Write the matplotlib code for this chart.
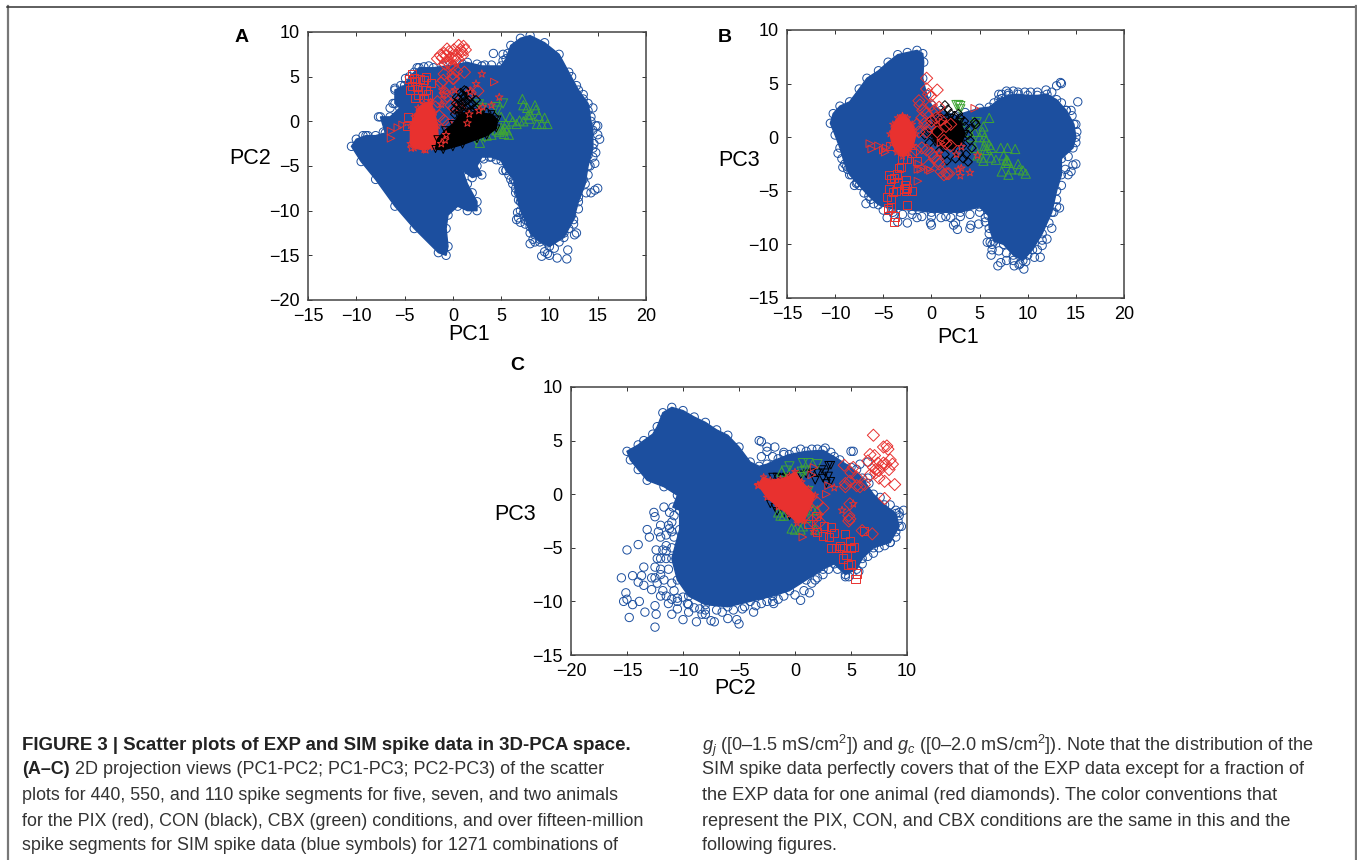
import matplotlib
matplotlib.use("Agg")
import matplotlib.pyplot as plt
import numpy as np

W, H = 1357, 860
plt.rcParams['font.family'] = ['Liberation Sans', 'DejaVu Sans']
plt.rcParams['mathtext.fontset'] = 'custom'
plt.rcParams['mathtext.rm'] = 'Liberation Sans'
plt.rcParams['mathtext.it'] = 'Liberation Sans:italic'

BLUE = '#1c4f9f'
RED = '#e8312f'
GREEN = '#3fa535'

# panel A, PC1-PC2
a_sim_hull = [(-10.5,-2.8),(-10,-2),(-9,-1.6),(-8,-1.6),(-7,-1.3),(-7.5,0.5),(-6.5,0.5),(-5.5,1.5),(-6,2),(-6,3.5),(-5,4),(-4.5,5),(-3.5,6),(-2,6),(0,6.3),(1.5,6.6),(3,6.2),(5,6.2),(5.5,7),(6,8.5),(7,9.3),(8,9.6),(9.5,8.8),(11,7.5),(12,5.5),(13,3.5),(14,2),(14.3,0),(14.5,-1),(14.5,-3),(14,-5),(13.7,-7),(13,-9),(12.5,-11),(11.5,-13),(10,-14),(9,-13.5),(8,-12.5),(7.5,-11),(7,-10),(6.5,-8),(6.3,-6.5),(5.5,-5.5),(5,-4.4),(4,-4),(3,-4),(2.5,-5),(3,-6),(2,-6.3),(1,-5.5),(1.5,-7),(2,-8),(2.5,-9),(2.5,-10),(1.5,-10),(0.5,-9.5),(-0.5,-10.5),(-0.7,-12),(-0.5,-14),(-0.7,-15),(-1.5,-14.7),(-4,-12),(-6,-9.5),(-8,-6.5),(-9.5,-4.5)]
a_sim_out = [(15.2,-2),(15,-0.5),(15,-1.5),(14.8,-3.5),(14.7,-4.7),(14.5,-4),(15,-7.5),(14.7,-7.7),(14.3,-8),(13.8,-8),(13,-9.8),(12.8,-12.5),(12.6,-12.7),(11.9,-14.4),(11.8,-15.4),(10.8,-15.3),(10,-15),(9.8,-14.8),(9.2,-15.1),(9.5,-14.6),(8.5,-13.5),(8.3,-13.2),(8,-13.7),(7.5,-11.5),(7,-11.3),(6.8,-10.8),(6.7,-10.2),(6.6,-11),(6.8,-8.8),(6.5,-7.5),(6.2,-7),(5.8,-6),(5.5,-5.5),(5.2,-5.5),(4.5,-4.3),(3.8,-4),(3.2,-4.2),(4.2,7.6),(5.2,7.5),(5.7,7.6),(13.5,3),(13.2,2.2),(14.5,1.5),(14.8,-0.5),(-6.2,2),(-6,3.7),(-5.4,4),(-4.9,4.8),(-3.7,6),(-3,6.1),(-7.7,0.5),(-7.2,-1.2),(-9.3,-1.6),(-8.8,-1.6)]
a_sim_edge = [(12.5,-11.5),(12,-12),(11.5,-12.5),(12.3,-10.5),(13,-8.5),(13.5,-6.5),(14,-6),(14.2,-5),(11,-13.5),(10.5,-14.2),(9.8,-13.6),(9,-13.2),(8.5,-12.7),(8,-11.8),(7.8,-11.2),(7.3,-10.3),(7,-9),(6.8,-8),(6.5,-6.8),(6,-6.5),(13.8,-3),(14,-3.8),(14.6,-2.5),(14.3,0.5),(14,1.2),(13.5,2.5),(12.8,4),(12.3,5),(-6.5,1.5),(-5.5,3),(-5.2,3.5),(-4.5,4),(-4,5.5),(-2.5,6.2),(-1,6.2),(1,6.4),(2.5,6.4),(3.3,6.3),(4,6.3),(5.2,6.8)]
a_red_hull = [(-4.4,-2.5),(-4.4,-0.5),(-4,0.5),(-3.6,1.5),(-3,2),(-2.3,2.2),(-1.9,1),(-1.6,-0.5),(-1.5,-2),(-2,-2.9),(-3,-3.2),(-4,-3)]
a_red_dia = [(-1.6,7),(-1.3,7.4),(-1.1,7.1),(-0.9,7.6),(-0.6,8.1),(-0.7,7.3),(-0.4,7.8),(-0.2,7.1),(0.1,8),(0.3,7.4),(0.6,8.5),(0.8,8),(0.9,7.8),(1,7.4),(1.3,8),(1.1,8.4),(0.5,7),(0.1,7),(-0.3,6.3),(-0.5,6.6),(0,6.2),(0.4,5.6),(0.3,6.8),(-0.8,6.4),(0,5.3),(0,4.8),(-1,4.6),(0.1,4.8),(-0.9,5.3),(-1.2,4.3),(1.2,5.5),(2.6,3.4),(1.8,3.2),(-0.8,3.2),(0,3),(-0.6,2.8),(0.1,1.5),(0.5,2),(0.6,1.5),(1,1.2),(-0.2,1.8),(-1.4,0.6),(-0.9,0.1),(-0.5,-0.4),(-1.6,2.2),(-1.8,1.6)]
a_red_sq = [(-4.5,4.7),(-4.2,5.3),(-4,4.8),(-4.2,4),(-3.7,3.8),(-3.9,4.5),(-3.4,4.7),(-3,4.6),(-2.8,5),(-3.2,3.5),(-3.6,3),(-3.9,2.6),(-4.4,3.5),(-2.8,3.5),(-4.6,0.5),(-4.7,-0.5),(-2.3,4.3),(-2.6,3),(-3,2.5)]
a_red_tri = [(-6.4,-1.9),(-6.4,-1.1),(-5.7,-0.7),(-5.2,-0.4),(4.3,4.4),(0.3,-0.2),(2.2,0.5),(3.5,-1)]
a_red_star = [(3,5.3),(2.4,4.2),(4.8,2.7),(4,1.8),(3.1,1.6),(2.7,1.2),(1.7,0.8),(1.5,-0.2),(-4.3,-3),(-2.8,-3.2),(-0.7,-1.5),(-0.8,-2.1),(-1.2,-2.5),(1.8,3.3),(-1.2,1.9),(-1.1,3.5),(0.2,3.5),(-1,3)]
a_blk_hull = [(-1.8,-3.1),(-1.6,-2),(-0.8,-1),(0,-0.3),(0.6,0.6),(1.2,1),(2,1),(3,0.9),(4,0.8),(4.6,0.2),(4.5,-0.8),(3.5,-1.6),(2.5,-2),(1,-2.6),(0,-2.9),(-1,-3.2)]
a_blk_pts = [(0.3,2),(0.6,2.5),(1,3),(1.4,3.4),(1.8,2.8),(2,2),(2.5,1.5),(0.6,1.2),(1,1),(1.5,1.5),(2,1),(1.3,2.2),(2.8,0.9),(3.5,1),(4.3,0.5),(0.8,3.2),(1.2,2.8),(0.2,0.8),(0.5,1.8),(0.9,2),(1.6,2.4),(1.2,3.5),(1.7,1.9),(2.2,1.4),(0.9,1.5),(1.8,1.2),(0.4,2.7),(1.1,2.5),(0.2,1.3),(2.4,2.4)]
a_grn_up = [(7.2,2.5),(7.3,1.8),(8.5,1.8),(8.6,1.3),(7.7,1.5),(8.9,0.6),(9.5,0.4),(9.8,-0.3),(9.2,-0.3),(8.7,-0.3),(8,0.8),(7.8,0.7),(7.9,0.3),(7.3,0),(6.9,0.1),(6.6,-0.3),(6.2,0),(5.9,0.5),(5,0.5),(5.5,-0.3),(5,-0.7),(5.6,-1),(4.8,-1.2),(5.3,-1.4),(4.5,-1),(4,-1.5),(3.5,-1.6),(2.8,-2.4),(5.8,-1.5),(5.2,-1),(4.9,-0.9),(5.4,-0.8)]
a_grn_dn = [(5.2,2),(4.6,1.2),(4.4,1.6),(3,1.5),(2.7,1.9),(2.4,-2.1),(3.3,-1.8)]

# panel B, PC1-PC3
b_sim_hull = [(-10.5,1.3),(-10.2,2.2),(-9.5,2.9),(-8.5,3.3),(-7.5,4.5),(-6.7,5.5),(-5.5,6.2),(-4.5,7),(-3.5,7.7),(-2.5,7.9),(-1.5,8.1),(-0.9,7.8),(-0.8,7),(-0.9,5.5),(-0.5,4),(0,3),(1,2.5),(2.5,2),(3.5,2.3),(5,2.7),(6,2.8),(7,3.5),(8,3.9),(9,4),(10,3.9),(11,3.9),(12,4),(13,3.5),(14,2.5),(14.8,1.2),(15,0),(14.7,-1),(13.5,-2),(13.5,-3.5),(13,-5),(12.5,-7),(11.5,-9),(10.5,-10.5),(9.5,-11.5),(8.5,-11),(7.5,-10),(6.5,-9.7),(6,-8.5),(5.9,-7.3),(5,-6.5),(3,-7),(0,-7),(-2,-6.8),(-4,-6.7),(-5.5,-6.3),(-6.5,-5.5),(-7.5,-4.5),(-8.5,-3.5),(-9,-2.5),(-9.5,-1),(-10,0.2)]
b_sim_out = [(-9.7,-1.5),(-9.2,-2.8),(-8.7,-3),(-8,-4.5),(-7.8,-4.3),(-6.8,-6.2),(-6.3,-5.8),(-4.6,-7.5),(-3.9,-7.2),(-3.5,-7.9),(-2.5,-8),(-1.5,-7.5),(-0.1,-8),(0,-8.2),(1,-7.5),(2.3,-8.2),(2.7,-8.6),(2.5,-8),(4,-8.5),(4.1,-8.2),(4.9,-8.1),(5.6,-7.9),(5.8,-9.8),(6.1,-9.8),(6.3,-10.5),(6.2,-11),(6.9,-12),(7.2,-11.7),(7.8,-11.5),(8.6,-12),(9.1,-11.9),(9.6,-12.3),(9.8,-11.6),(10.7,-11.2),(11.3,-11.2),(11.5,-10.1),(12,-9.5),(12.5,-8.5),(13,-6.5),(13.3,-6.6),(14.2,-3.5),(14.7,-2.6),(15,-2.5),(14.5,-3.2),(15.2,3.3),(15,1.2),(14.6,2),(13.5,5),(13.4,5.1),(13,4.8),(14,2.5),(7,4),(7.3,4),(7.8,4.3),(8.5,4.3),(9.7,4.2),(11.9,4.4)]
b_sim_edge = [(-9.3,-2),(-8.8,-2.7),(-8.3,-3.5),(-7.7,-4.2),(-7,-5.2),(-6,-6.2),(-5,-6.8),(-4,-7),(-3,-7.2),(-2,-7.2),(-1,-7.4),(0,-7.4),(1.5,-7.4),(2,-7.5),(3,-7.4),(4,-7.2),(5,-7),(5.6,-7.5),(6,-9),(6.3,-10),(7,-10.6),(7.8,-10.8),(8.5,-11.5),(9.2,-11.8),(10,-11),(11,-10.5),(11.5,-9.6),(12.2,-8),(12.7,-7),(13,-5.8),(13.5,-4.5),(13.9,-3),(14.2,-1.8),(15,-0.5),(15.1,0.5),(14.5,2.5),(13.5,3.2),(12.5,4.2),(11,4.2),(10.3,4.2),(9,4.2),(8,4.1),(7.3,3.6),(6.5,3.2)]
b_red_hull = [(-4.3,0.3),(-4,1.2),(-3.5,1.8),(-3,2),(-2.5,1.8),(-2,1.2),(-1.6,0.3),(-1.9,-0.8),(-2.4,-1.4),(-3,-1.8),(-3.6,-1.4),(-4.1,-0.6)]
b_red_dia = [(-0.5,5.5),(0.6,4.4),(-0.5,4.5),(-0.3,4),(-0.1,3.8),(-1.3,3.4),(-1.2,3),(-0.9,2.5),(-0.5,2.2),(0,3),(0.3,2.5),(0.8,2.8),(-1,1.8),(-0.7,1.3),(-0.2,1),(-1.5,1.2),(-1.3,0.5),(-0.5,0.5),(0,1.5),(0.5,1.8),(1,1.6),(1.5,1),(2,1.2),(0.6,0.5),(1.3,-0.3),(1.5,-0.6),(2,-0.8),(-0.5,-1.2),(0,-1.5),(0.3,-1.9),(0.7,-2.2),(0.8,-2.5),(1,-3.2),(1.3,-3.5),(1.6,-3.4),(1.8,-3.4),(-1,-1),(-1.6,-1.2),(-0.3,-2.6)]
b_red_sq = [(-4.4,-3.5),(-4.2,-3.9),(-3.9,-3.8),(-3.6,-3.4),(-3.4,-2.9),(-3.2,-2.8),(-3.5,-4.3),(-2.6,-4),(-2.5,-4.7),(-2.7,-4.5),(-2.8,-4.8),(-2.6,-5),(-2,-5),(-4.4,-4.8),(-4,-5.1),(-3.7,-5),(-4.6,-5.6),(-4.2,-5.8),(-4.5,-6.6),(-4.5,-6.8),(-4.2,-6.5),(-2.5,-6.3),(-3.8,-7.4),(-3.9,-7.9),(-3,-2),(-2.5,-2),(-4.3,-0.8),(-2,-1.5),(-1.5,-2.2)]
b_red_tri = [(-6.4,-0.6),(-6.2,-1.1),(-5.5,-0.8),(-5,-1.2),(-4.7,-1),(-4.8,-1.4),(-1.4,-3),(-1.1,-3),(-0.3,-3),(-0.1,-3.1),(-1.4,-4.1),(4.5,2.7),(1,-0.5),(1.2,1.4),(-1.3,-2.5)]
b_red_star = [(-3,1.9),(-3.2,1.3),(2.8,-3),(3,-3.6),(3.1,-2.9),(4,-3.3),(2.6,-1.6),(3.1,-0.9),(4.8,-1.7),(0.8,-1.5)]
b_blk_hull = [(0,0.3),(0.5,1.2),(1.2,1.7),(2,1.8),(3,1.4),(3.5,0.3),(3.1,-0.6),(2.3,-1.1),(1.2,-1),(0.4,-0.5)]
b_blk_pts = [(1.4,3),(1.7,2.6),(1.2,2.3),(2,2.2),(2.4,2),(0.8,2),(3,1.8),(3.5,1),(3.8,0.2),(4.2,-1),(3.6,-1.6),(3.8,-2.3),(3.3,-2),(2.5,-2),(1.6,-2.2),(1.4,-1.6),(0,1.5),(4.5,1.4),(4.6,1.2),(-0.3,0.4),(-0.7,0.2),(3.2,-0.8),(0.4,1.8),(2.8,2.2),(3.4,1.5),(4,0.8),(4,-0.3),(2.9,-1.5),(0.8,-1.3),(-0.2,-0.5)]
b_grn_up = [(6,1.8),(5.4,1),(5.3,0.5),(4.5,0.5),(5,0),(5.5,0),(5.7,-0.3),(5.5,-0.8),(6,-0.7),(6.2,-1),(5.8,-1.2),(5.5,-1.2),(7.2,-1),(7.9,-1),(8.7,-1.1),(4.8,-1.7),(5.2,-1.9),(5.4,-2.2),(6.2,-1.9),(6.7,-2.1),(7.5,-1.7),(7.8,-2.1),(7.9,-2.2),(7.7,-2.4),(8,-2.4),(9,-2.5),(9.1,-3),(9.5,-3.1),(8.3,-3),(9.8,-3.4),(7.3,-3.2),(8,-3.5),(4.5,-1),(3.9,0.5),(4.2,0),(3,1.4)]
b_grn_dn = [(2.6,3),(2.8,3),(3,2.9),(3,2.6),(4.7,1.4),(4.5,1.1)]

# panel C, PC2-PC3
c_sim_hull = [(-15,4),(-14,4.6),(-13.5,5),(-12.7,5.6),(-12.3,6.3),(-11.8,7.6),(-11,8.1),(-10,7.8),(-9,7.2),(-8,6.7),(-7,6),(-6,5.5),(-5,4.4),(-4,3),(-3.2,2.6),(-2.5,2.8),(-1.5,3.3),(-0.5,3.7),(1,4),(2.5,4.1),(3.5,3.5),(5,2.5),(6,1.5),(7,0),(8,-1),(9,-1.8),(9.3,-3),(8.5,-4.5),(7,-5),(6,-6),(5.5,-7),(4.5,-7.5),(3.5,-6.5),(2.5,-7),(1,-8),(-0.5,-9),(-2,-9.5),(-4,-10),(-6,-10.5),(-8,-10.3),(-9.5,-9.5),(-10.5,-8),(-11,-6),(-10.3,-3.3),(-10.3,-1.5),(-10.9,-1.2),(-10.5,-0.1),(-11.7,0.7),(-13.2,1.3),(-14,2.3),(-14.7,3.2)]
c_sim_out = [(-15.5,-7.8),(-15,-5.2),(-15.1,-9.2),(-15.3,-10),(-15,-9.8),(-14.8,-11.5),(-14.5,-10.3),(-14.5,-7.6),(-14,-8.2),(-14,-4.7),(-13.9,-10),(-13.5,-6.8),(-13.7,-7.6),(-13.5,-8.5),(-13.4,-11),(-13.2,-3.3),(-13,-4),(-12.8,-7.8),(-12.8,-8.9),(-12.5,-12.4),(-12.5,-10.4),(-12.4,-11.2),(-12.5,-6.8),(-12.6,-1.7),(-12.5,-2.1),(-12.4,-5.2),(-12,-6),(-12,-4),(-12,-2.9),(-12.2,-3.5),(-11.7,-1.2),(-11.5,-3.8),(-11.5,-9.5),(-11.2,-1.7),(-11,-3.5),(-11,-2.6),(-11.3,-10.2),(-11,-11.2),(-10.5,-10),(-10,-11.7),(-9.6,-10.2),(-8.8,-11.9),(-8.3,-11.2),(-7.5,-11.8),(-7.2,-11.9),(-6,-11.6),(-5.2,-11.7),(-5,-12.1),(-4.7,-10.7),(-3.7,-11),(-2.5,-10),(-2,-10),(-1.9,-10.2),(0.5,-9.9),(1.3,-9.2),(1.8,-8),(2.5,-7.5),(4.5,-7.7),(4.8,-7.7),(5.2,4),(6,-4),(9.3,-2),(9.5,-3),(9.7,-1.5),(9.3,-1.7),(-3,4.9),(-3.2,5),(-2.5,4.4),(-2.5,4),(-1.8,4.4),(-3,3.5),(-1,3.7),(0.5,4.2),(1.5,4.2),(2.7,4.3),(5,4),(6.5,1.5),(9,-3.5),(8.5,-4.5),(7.5,-5),(5.7,-7.2)]
c_sim_edge = [(-12,-7),(-11.5,-6),(-11,-5),(-11.5,-4.8),(-11.3,-7),(-11.7,-8),(-12.3,-8.3),(-11,-8.3),(-10.8,-9),(-10.5,-9.7),(-10,-9.6),(-9.5,-10.3),(-9,-10.6),(-8.5,-10.7),(-8,-10.8),(-7,-10.8),(-6.5,-11),(-5.5,-10.8),(-4.5,-10.5),(-3.5,-10.4),(-3,-10.2),(-1.5,-9.8),(-1,-9.5),(0,-9.4),(0.8,-9),(1.5,-8.3),(2,-7.8),(3,-7),(3.8,-7),(-11.3,-2.9),(-10.8,-4),(-11.2,-3.2),(-11.5,-5.3),(-11.8,-5.2),(-10.8,-2),(-12,-7.5),(-12.3,-6),(-12.5,-7.8),(-11.8,-9),(-12,-9.5),(-11,-9.8),(-10.5,-10.7),(-9.5,-11),(-8,-11.2),(9,-1.5),(9.2,-2.5),(9,-4),(8,-4.8),(7,-5.5),(6.5,-5.8),(6,-6.5),(6.5,3),(5.8,2.8),(-2,3.5),(-1,3.9),(0,4),(2,4.2),(3.2,3.9),(4,3.2),(5.5,2.3),(6.6,1),(7.6,-0.3),(8.5,-1)]
c_red_hull = [(-3.3,0.9),(-2.8,1.6),(-2.2,1.3),(-1.3,1.4),(-0.5,1.7),(0,2.1),(0.6,1.15),(1.2,0.5),(1.8,-0.1),(1.3,-1.3),(0.8,-2.5),(0.2,-2.7),(-0.5,-1.9),(-1.5,-1.2),(-2.5,-0.3)]
c_red_dia = [(7,5.5),(7.9,4.4),(8.2,4.5),(8.3,4.2),(6.7,3.7),(7.1,3.6),(6.5,3.1),(7.4,2.9),(7.7,2.6),(7.9,2.9),(8.1,2.8),(8.5,3.2),(8.7,2.8),(8.4,2.3),(7,2.5),(7.2,2.3),(7.5,2.2),(7.2,2),(6.7,1.8),(7.5,1.5),(8,1.2),(8.9,0.9),(8,-0.4),(4.4,2.7),(5.2,2.5),(5,2),(5.5,1.6),(4.9,1.2),(5.5,0.8),(5.8,0.7),(6.2,0.9),(4.5,1),(4.5,0.7),(4.9,-0.9),(4.8,-2),(4.9,-2.3),(4.8,-2.5),(6,-3.4),(6.9,-3.7),(2,-0.8),(2.5,-1.3),(1.5,-2.5),(2.2,-2.6)]
c_red_sq = [(2,-3.5),(2.6,-3),(3.2,-3.1),(3.5,-3.6),(2.5,-3.9),(3,-4),(4,-4.8),(4.5,-3.7),(4.9,-4.4),(5,-5),(5.3,-4.9),(3.2,-5),(3.7,-5),(4.2,-5),(4.3,-6),(4.6,-5.7),(4.7,-6.6),(5,-6.5),(5.5,-7.4),(5.4,-7.9),(6.2,-3.4),(1.2,-2.8),(1.9,-2)]
c_red_tri = [(0.7,-4),(3,0.8),(2.8,0),(1.7,2.5),(1.5,1.8),(0,1.5)]
c_red_star = [(-3.3,0.8),(3.5,0.6),(4.2,-1.5),(5.2,-0.9),(1.7,-3.5),(2.2,-2)]
c_blk_pts = [(-2,1.6),(-1.6,1.6),(-1.2,1.5),(-0.8,1.6),(0.5,1.8),(1,1.9),(1.5,2),(2,2),(2.4,2.3),(2.7,2),(3,2.7),(3.2,2.7),(3,1.7),(3.2,1.2),(2.8,1),(2.5,1.5),(1.8,1.3),(-2.2,-0.9),(-1.8,-1.2),(-1.6,-1.6),(-1,-1.8),(-0.5,-2)]
c_grn_up = [(-1.2,2.1),(0.7,-3),(0,-3.3),(-0.3,-3.2),(0.5,-3.3),(-1.5,-1.7),(-1.3,-2),(-1,-2),(2,-1.5),(1.6,-1.5),(1.2,-0.8),(1,-2.2),(1.8,-3.3)]
c_grn_dn = [(-0.5,2.6),(0.7,2.9),(1.2,2.9),(2,2.8),(0.6,2.1),(0.9,2.2),(1.2,0.3),(0.5,1.6),(-0.8,2.2)]

a_xticks = list(range(-15, 25, 5))
a_yticks = list(range(-20, 15, 5))
b_yticks = list(range(-15, 15, 5))
c_xticks = list(range(-20, 15, 5))

caption_left = [
    "plots for 440, 550, and 110 spike segments for five, seven, and two animals",
    "for the PIX (red), CON (black), CBX (green) conditions, and over fifteen-million",
    "spike segments for SIM spike data (blue symbols) for 1271 combinations of",
]
caption_right = [
    r"$g_j$ ([0–1.5 mS/cm$^2$]) and $g_c$ ([0–2.0 mS/cm$^2$]). Note that the distribution of the",
    "SIM spike data perfectly covers that of the EXP data except for a fraction of",
    "the EXP data for one animal (red diamonds). The color conventions that",
    "represent the PIX, CON, and CBX conditions are the same in this and the",
    "following figures.",
]


def xy(pts):
    arr = np.array(pts)
    return arr[:, 0], arr[:, 1]


def dots(ax, pts, marker, color, z, s=30, lw=0.7):
    x, y = xy(pts)
    ax.scatter(x, y, s=s, marker=marker, facecolors='none', edgecolors=color,
               linewidths=lw, zorder=z)


def blob(ax, pts, color, z, marker, s=22):
    x, y = xy(pts)
    ax.fill(x, y, color=color, lw=1, zorder=z)
    dots(ax, pts, marker, color, z, s=s)


def sim_cloud(ax, hull, out, edge):
    blob(ax, hull, BLUE, 1, 'o', s=36)
    dots(ax, out, 'o', BLUE, 1, s=36)
    dots(ax, edge, 'o', BLUE, 1, s=36)


def make_axes(fig, left, top, right, bottom, xlim, ylim, xticks, yticks):
    ax = fig.add_axes([left / W, 1 - bottom / H, (right - left) / W, (bottom - top) / H])
    ax.set_xlim(xlim)
    ax.set_ylim(ylim)
    ax.set_xticks(xticks)
    ax.set_yticks(yticks)
    ax.tick_params(direction='in', top=True, right=True, length=3, width=0.7,
                   color='#333333', labelsize=13, pad=6)
    for sp in ax.spines.values():
        sp.set_linewidth(1.1)
        sp.set_color('#444444')
    return ax


def label(fig, px, py, s, **kw):
    fig.text(px / W, 1 - py / H, s, **kw)


def main():
    fig = plt.figure(figsize=(W / 100, H / 100), dpi=100)

    ax = make_axes(fig, 308, 32, 646, 300, (-15, 20), (-20, 10), a_xticks, a_yticks)
    sim_cloud(ax, a_sim_hull, a_sim_out, a_sim_edge)
    blob(ax, a_red_hull, RED, 2, '*', s=26)
    dots(ax, a_red_dia, 'D', RED, 2, s=38)
    dots(ax, a_red_sq, 's', RED, 2, s=34)
    dots(ax, a_red_tri, '>', RED, 2)
    dots(ax, a_grn_up, '^', GREEN, 3, s=44)
    dots(ax, a_grn_dn, 'v', GREEN, 3, s=44)
    blob(ax, a_blk_hull, 'black', 4, 'v', s=26)
    dots(ax, a_blk_pts, 'D', 'black', 4, s=20)
    dots(ax, a_red_star, '*', RED, 5, s=34)

    ax = make_axes(fig, 787, 30, 1124, 298, (-15, 20), (-15, 10), a_xticks, b_yticks)
    sim_cloud(ax, b_sim_hull, b_sim_out, b_sim_edge)
    dots(ax, b_grn_up, '^', GREEN, 2, s=44)
    dots(ax, b_grn_dn, 'v', GREEN, 2, s=44)
    blob(ax, b_red_hull, RED, 3, '*', s=26)
    dots(ax, b_red_sq, 's', RED, 3, s=34)
    dots(ax, b_blk_pts, 'D', 'black', 3, s=20)
    blob(ax, b_blk_hull, 'black', 3, 'v', s=26)
    dots(ax, b_red_dia, 'D', RED, 4, s=38)
    dots(ax, b_red_tri, '>', RED, 4)
    dots(ax, b_red_star, '*', RED, 4, s=34)

    ax = make_axes(fig, 571, 387, 907, 655, (-20, 10), (-15, 10), c_xticks, b_yticks)
    sim_cloud(ax, c_sim_hull, c_sim_out, c_sim_edge)
    dots(ax, c_blk_pts, 'v', 'black', 2, s=30)
    dots(ax, c_grn_up, '^', GREEN, 3, s=44)
    dots(ax, c_grn_dn, 'v', GREEN, 3, s=44)
    dots(ax, c_red_dia, 'D', RED, 4, s=38)
    dots(ax, c_red_sq, 's', RED, 4, s=34)
    dots(ax, c_red_tri, '>', RED, 4)
    blob(ax, c_red_hull, RED, 5, '*', s=26)
    dots(ax, c_red_star, '*', RED, 5, s=34)

    axis_labels = [(469, 335, 'PC1'), (250, 159, 'PC2'), (958, 337, 'PC1'),
                   (739, 161, 'PC3'), (735, 689, 'PC2'), (515, 514, 'PC3')]
    for px, py, s in axis_labels:
        label(fig, px, py, s, fontsize=15.5, ha='center', va='center')
    for px, py, s in [(242, 37, 'A'), (725, 37, 'B'), (517, 365, 'C')]:
        label(fig, px, py, s, fontsize=14, fontweight='bold', ha='center', va='center')

    # caption
    label(fig, 22, 746, "FIGURE 3 | Scatter plots of EXP and SIM spike data in 3D-PCA space.",
          fontsize=13.45, fontweight='bold', va='center', color='#222222')
    label(fig, 22, 770, "(A–C)", fontsize=13, fontweight='bold', va='center', color='#222222')
    label(fig, 75, 770, "2D projection views (PC1-PC2; PC1-PC3; PC2-PC3) of the scatter",
          fontsize=13, va='center', color='#333333')
    for py, s in zip([796, 821, 846], caption_left):
        label(fig, 22, py, s, fontsize=12.85, va='center', color='#333333')
    for py, s in zip([746, 770, 796, 821, 846], caption_right):
        label(fig, 702, py, s, fontsize=13.05, va='center', color='#333333')

    # page frame
    frame = fig.add_axes([0, 0, 1, 1], facecolor='none')
    frame.set_xlim(0, W)
    frame.set_ylim(H, 0)
    frame.axis('off')
    frame.plot([7.5, 7.5], [6, H], color='#777777', lw=1.6)
    frame.plot([7, 1355], [6.5, 6.5], color='#333333', lw=1.1)
    frame.plot([1355.5, 1355.5], [6, H], color='#777777', lw=1.6)

    fig.savefig('out.png', dpi=100)


if __name__ == "__main__":
    main()
